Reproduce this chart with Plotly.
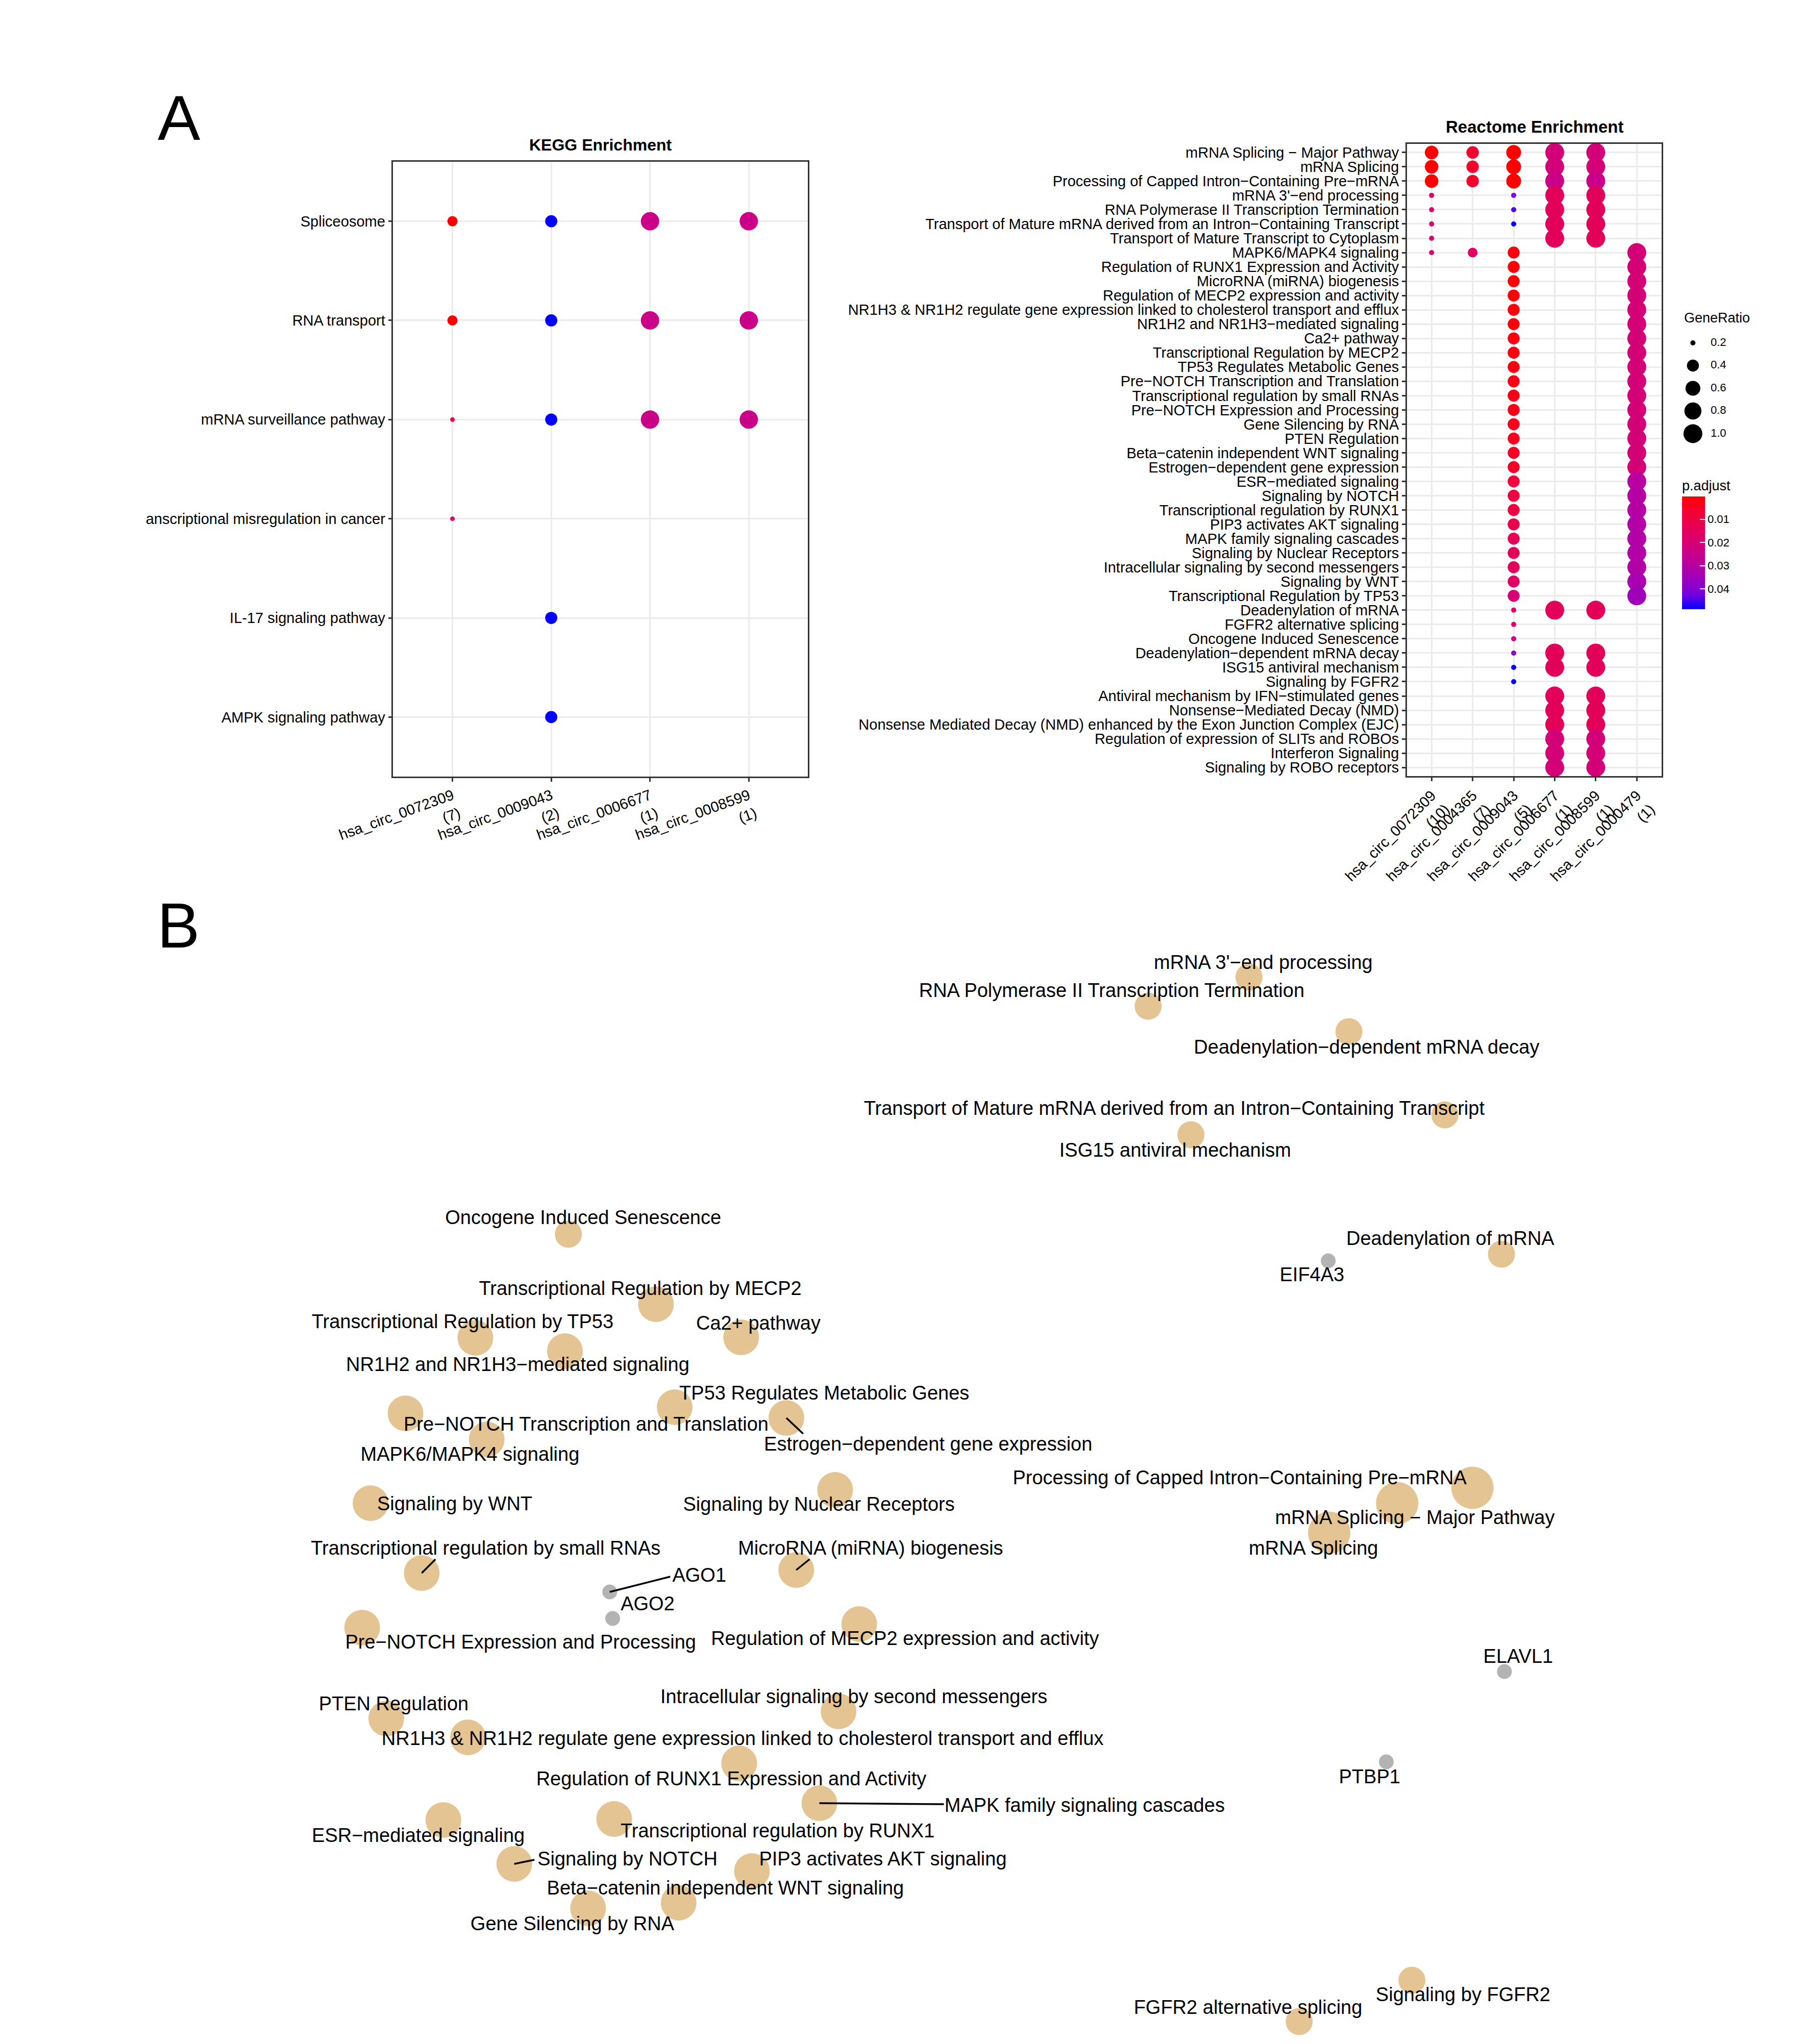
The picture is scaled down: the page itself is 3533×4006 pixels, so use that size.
import math
import plotly.graph_objects as go

W, H = 3533, 4006
FONT = "Liberation Sans, Arial, sans-serif"
N = None

# ---------------- KEGG enrichment data ----------------
kegg_terms = ["Spliceosome", "RNA transport", "mRNA surveillance pathway",
              "anscriptional misregulation in cancer", "IL-17 signaling pathway",
              "AMPK signaling pathway"]
kegg_circ = ["hsa_circ_0072309", "hsa_circ_0009043", "hsa_circ_0006677", "hsa_circ_0008599"]
kegg_counts = [7, 2, 1, 1]
kegg_ratio_0072309 = [0.286, 0.286, 0.143, 0.143, N, N]
kegg_padj_0072309 = [0.0008, 0.0009, 0.0064, 0.012, N, N]
kegg_ratio_0009043 = [0.4, 0.4, 0.4, N, 0.4, 0.4]
kegg_padj_0009043 = [0.032, 0.032, 0.032, N, 0.032, 0.032]
kegg_ratio_0006677 = [1.0, 1.0, 1.0, N, N, N]
kegg_padj_0006677 = [0.0164, 0.0164, 0.0164, N, N, N]
kegg_ratio_0008599 = [1.0, 1.0, 1.0, N, N, N]
kegg_padj_0008599 = [0.0164, 0.0164, 0.0164, N, N, N]

# ---------------- Reactome enrichment data ----------------
reactome_terms = [
    "mRNA Splicing \u2212 Major Pathway", "mRNA Splicing",
    "Processing of Capped Intron\u2212Containing Pre\u2212mRNA", "mRNA 3'\u2212end processing",
    "RNA Polymerase II Transcription Termination",
    "Transport of Mature mRNA derived from an Intron\u2212Containing Transcript",
    "Transport of Mature Transcript to Cytoplasm", "MAPK6/MAPK4 signaling",
    "Regulation of RUNX1 Expression and Activity", "MicroRNA (miRNA) biogenesis",
    "Regulation of MECP2 expression and activity",
    "NR1H3 & NR1H2 regulate gene expression linked to cholesterol transport and efflux",
    "NR1H2 and NR1H3\u2212mediated signaling", "Ca2+ pathway",
    "Transcriptional Regulation by MECP2", "TP53 Regulates Metabolic Genes",
    "Pre\u2212NOTCH Transcription and Translation", "Transcriptional regulation by small RNAs",
    "Pre\u2212NOTCH Expression and Processing", "Gene Silencing by RNA", "PTEN Regulation",
    "Beta\u2212catenin independent WNT signaling", "Estrogen\u2212dependent gene expression",
    "ESR\u2212mediated signaling", "Signaling by NOTCH", "Transcriptional regulation by RUNX1",
    "PIP3 activates AKT signaling", "MAPK family signaling cascades",
    "Signaling by Nuclear Receptors", "Intracellular signaling by second messengers",
    "Signaling by WNT", "Transcriptional Regulation by TP53", "Deadenylation of mRNA",
    "FGFR2 alternative splicing", "Oncogene Induced Senescence",
    "Deadenylation\u2212dependent mRNA decay", "ISG15 antiviral mechanism",
    "Signaling by FGFR2", "Antiviral mechanism by IFN\u2212stimulated genes",
    "Nonsense\u2212Mediated Decay (NMD)",
    "Nonsense Mediated Decay (NMD) enhanced by the Exon Junction Complex (EJC)",
    "Regulation of expression of SLITs and ROBOs", "Interferon Signaling",
    "Signaling by ROBO receptors"]
reactome_circ = ["hsa_circ_0072309", "hsa_circ_0004365", "hsa_circ_0009043",
                 "hsa_circ_0006677", "hsa_circ_0008599", "hsa_circ_0000479"]
reactome_counts = [10, 7, 5, 1, 1, 1]

re_ratio_0072309 = [0.5, 0.5, 0.5, 0.2, 0.2, 0.2, 0.2, 0.2] + [N] * 36
re_padj_0072309 = [0.0002, 0.0002, 0.0002, 0.018, 0.018, 0.018, 0.018, 0.018] + [N] * 36

re_ratio_0004365 = [0.43, 0.43, 0.43, N, N, N, N, 0.29] + [N] * 36
re_padj_0004365 = [0.006, 0.006, 0.006, N, N, N, N, 0.016] + [N] * 36

re_ratio_0009043 = ([0.6, 0.6, 0.6, 0.2, 0.2, 0.2, N]
                    + [0.4] * 25
                    + [0.2, 0.2, 0.2, 0.2, 0.2, 0.2]
                    + [N] * 6)
re_padj_0009043 = [0.0004, 0.0004, 0.0004, 0.040, 0.045, 0.0487, N,
                   0.0018, 0.0012, 0.0012, 0.0012, 0.0014, 0.0016, 0.0018, 0.0020,
                   0.0024, 0.0028, 0.0030, 0.0032, 0.0035, 0.0040, 0.0050, 0.0052,
                   0.0085, 0.0090, 0.0100, 0.0120, 0.0140, 0.0145, 0.0145, 0.0165,
                   0.0200,
                   0.0175, 0.0190, 0.0250, 0.0400, 0.0487, 0.0487,
                   N, N, N, N, N, N]

re_ratio_0006677 = ([1.0] * 7 + [N] * 25 + [1.0, N, N, 1.0, 1.0, N]
                    + [1.0, 1.0, 1.0, 1.0, 1.0, 1.0])
re_padj_0006677 = ([0.021, 0.021, 0.0245, 0.0145, 0.0145, 0.0145, 0.0145] + [N] * 25
                   + [0.0145, N, N, 0.0145, 0.0145, N]
                   + [0.0145, 0.0145, 0.0145, 0.021, 0.021, 0.021])

re_ratio_0008599 = list(re_ratio_0006677)
re_padj_0008599 = list(re_padj_0006677)

re_ratio_0000479 = [N] * 7 + [1.0] * 25 + [N] * 12
re_padj_0000479 = ([N] * 7 + [0.0205] * 16
                   + [0.029, 0.030, 0.030, 0.031, 0.031, 0.031, 0.031, 0.033, 0.035]
                   + [N] * 12)

generatio_breaks = [0.2, 0.4, 0.6, 0.8, 1.0]
padj_breaks = [0.01, 0.02, 0.03, 0.04]

# ---------------- network (layout coordinates) ----------------
path_names = [
    "mRNA 3'\u2212end processing", "RNA Polymerase II Transcription Termination",
    "Deadenylation\u2212dependent mRNA decay",
    "Transport of Mature mRNA derived from an Intron\u2212Containing Transcript",
    "ISG15 antiviral mechanism", "Deadenylation of mRNA", "Oncogene Induced Senescence",
    "Transcriptional Regulation by MECP2", "Transcriptional Regulation by TP53",
    "NR1H2 and NR1H3\u2212mediated signaling", "Ca2+ pathway", "TP53 Regulates Metabolic Genes",
    "Estrogen\u2212dependent gene expression", "Pre\u2212NOTCH Transcription and Translation",
    "MAPK6/MAPK4 signaling", "Signaling by WNT", "Signaling by Nuclear Receptors",
    "Transcriptional regulation by small RNAs", "MicroRNA (miRNA) biogenesis",
    "Pre\u2212NOTCH Expression and Processing", "Regulation of MECP2 expression and activity",
    "PTEN Regulation",
    "NR1H3 & NR1H2 regulate gene expression linked to cholesterol transport and efflux",
    "Intracellular signaling by second messengers",
    "Regulation of RUNX1 Expression and Activity", "MAPK family signaling cascades",
    "ESR\u2212mediated signaling", "Transcriptional regulation by RUNX1", "Signaling by NOTCH",
    "PIP3 activates AKT signaling", "Beta\u2212catenin independent WNT signaling",
    "Gene Silencing by RNA", "Processing of Capped Intron\u2212Containing Pre\u2212mRNA",
    "mRNA Splicing \u2212 Major Pathway", "mRNA Splicing", "Signaling by FGFR2",
    "FGFR2 alternative splicing"]
path_gene_count = [1, 1, 1, 1, 1, 1, 1, 2, 2, 2, 2, 2, 2, 2, 2, 2, 2, 2, 2, 2, 2, 2, 2, 2,
                   2, 2, 2, 2, 2, 2, 2, 2, 3, 3, 3, 1, 1]
path_x = [23.99, 21.94, 26.02, 27.97, 22.81, 29.12, 10.16, 11.94, 8.27, 10.09, 13.67, 12.32,
          14.59, 6.85, 8.50, 6.14, 15.58, 7.18, 14.79, 5.97, 16.07, 6.46, 8.12, 15.65,
          13.63, 15.26, 7.62, 11.09, 9.06, 13.89, 12.40, 10.56, 28.53, 27.00, 25.62,
          27.30, 25.01]
path_y = [20.99, 20.42, 19.92, 18.29, 17.90, 15.56, 15.95, 14.58, 13.92, 13.66, 13.93, 12.56,
          12.35, 12.44, 11.93, 10.68, 10.94, 9.31, 9.37, 8.24, 8.31, 6.46, 6.09, 6.60,
          5.58, 4.80, 4.47, 4.49, 3.61, 3.47, 2.85, 2.74, 10.98, 10.68, 10.10,
          1.33, 0.52]
path_label_x = [24.28, 21.20, 26.38, 22.47, 22.49, 28.08, 10.46, 11.62, 8.01, 9.13, 14.02,
                15.36, 17.47, 10.52, 8.16, 7.85, 15.25, 8.48, 16.30, 9.19, 17.00, 6.61,
                13.70, 15.96, 13.47, 20.65, 7.11, 14.41, 11.36, 16.55, 13.35, 10.24,
                23.80, 27.36, 25.30, 28.34, 23.97]
path_label_y = [21.25, 20.70, 19.59, 18.39, 17.57, 15.84, 16.25, 14.86, 14.21, 13.37, 14.18,
                12.81, 11.81, 12.20, 11.61, 10.64, 10.63, 9.77, 9.77, 7.93, 8.00, 6.72,
                6.04, 6.86, 5.25, 4.73, 4.14, 4.23, 3.68, 3.68, 3.11, 2.41,
                11.15, 10.37, 9.77, 1.02, 0.77]

gene_names = ["EIF4A3", "AGO1", "AGO2", "ELAVL1", "PTBP1"]
gene_x = [25.60, 11.00, 11.06, 29.18, 26.78]
gene_y = [15.43, 8.94, 8.42, 7.38, 5.61]
gene_label_x = [25.27, 12.82, 11.77, 29.46, 26.44]
gene_label_y = [15.13, 9.24, 8.68, 7.65, 5.29]

# label leader segments (ggrepel): from node to end point
leader_from = ["Estrogen\u2212dependent gene expression", "Transcriptional regulation by small RNAs",
               "MicroRNA (miRNA) biogenesis", "AGO1", "Signaling by NOTCH",
               "MAPK family signaling cascades"]
leader_end_x = [14.93, 7.46, 15.06, 12.23, 9.47, 17.79]
leader_end_y = [12.04, 9.58, 9.58, 9.24, 3.69, 4.78]

# ---------------- helpers ----------------
def px_x(v):
    return v / W


def px_y(v):
    return 1 - v / H


# red -> blue gradient interpolated in Lab space (ggplot style)
RB = [[0.0, "#FF0000"], [0.125, "#F40031"], [0.25, "#E8004F"], [0.375, "#DA006C"],
      [0.5, "#CA0089"], [0.625, "#B500A5"], [0.75, "#9A00C2"], [0.875, "#7300E0"],
      [1.0, "#0000FF"]]
RB_REV = [[1 - t, c] for t, c in reversed(RB)]

fig = go.Figure()

axis_common = dict(showline=True, mirror=True, linecolor="#333333", linewidth=2.7,
                   showgrid=True, gridcolor="#EBEBEB", gridwidth=2.7, zeroline=False,
                   ticks="outside", ticklen=7, tickwidth=2.7, tickcolor="#333333",
                   tickfont=dict(family=FONT, size=29, color="black"), type="category",
                   categoryorder="array", tickmode="array")

# ---------------- network (drawn in its own lower area) ----------------
size_by_count = {1: 53, 2: 70, 3: 83}
fig.add_trace(go.Scatter(x=path_x, y=path_y, mode="markers", xaxis="x3", yaxis="y3",
                         marker=dict(size=[size_by_count[c] for c in path_gene_count],
                                     color="#E5C494", opacity=1, line=dict(width=0)),
                         showlegend=False, hovertext=path_names, hoverinfo="text",
                         cliponaxis=False))
fig.add_trace(go.Scatter(x=gene_x, y=gene_y, mode="markers", xaxis="x3", yaxis="y3",
                         marker=dict(size=29, color="#B3B3B3", opacity=1, line=dict(width=0)),
                         showlegend=False, hovertext=gene_names, hoverinfo="text",
                         cliponaxis=False))
all_names = path_names + gene_names
all_x = path_x + gene_x
all_y = path_y + gene_y
seg_x, seg_y = [], []
for name, ex, ey in zip(leader_from, leader_end_x, leader_end_y):
    i = all_names.index(name)
    seg_x += [all_x[i], ex, None]
    seg_y += [all_y[i], ey, None]
fig.add_trace(go.Scatter(x=seg_x, y=seg_y, mode="lines", xaxis="x3", yaxis="y3",
                         line=dict(color="black", width=3.5), showlegend=False,
                         hoverinfo="skip", cliponaxis=False))
fig.add_trace(go.Scatter(x=path_label_x + gene_label_x, y=path_label_y + gene_label_y,
                         mode="text", xaxis="x3", yaxis="y3", text=all_names,
                         textposition="middle center",
                         textfont=dict(family=FONT, size=38, color="black"),
                         showlegend=False, hoverinfo="skip", cliponaxis=False))

# ---------------- KEGG trace ----------------
kegg_cols = [(kegg_ratio_0072309, kegg_padj_0072309), (kegg_ratio_0009043, kegg_padj_0009043),
             (kegg_ratio_0006677, kegg_padj_0006677), (kegg_ratio_0008599, kegg_padj_0008599)]
kx, ky, kr, kp = [], [], [], []
for circ, (ratios, padjs) in zip(kegg_circ, kegg_cols):
    for term, r, p in zip(kegg_terms, ratios, padjs):
        if r is not None:
            kx.append(circ); ky.append(term); kr.append(r); kp.append(p)
kmin, kmax = min(kr), max(kr)
ksize = [9 + 27 * math.sqrt((r - kmin) / (kmax - kmin)) for r in kr]
fig.add_trace(go.Scatter(x=kx, y=ky, mode="markers", xaxis="x", yaxis="y",
                         marker=dict(size=ksize, color=kp, colorscale=RB, cmin=min(kp),
                                     cmax=max(kp), showscale=False, opacity=1,
                                     line=dict(width=0)),
                         showlegend=False, hoverinfo="x+y"))

# ---------------- Reactome trace ----------------
re_cols = [(re_ratio_0072309, re_padj_0072309), (re_ratio_0004365, re_padj_0004365),
           (re_ratio_0009043, re_padj_0009043), (re_ratio_0006677, re_padj_0006677),
           (re_ratio_0008599, re_padj_0008599), (re_ratio_0000479, re_padj_0000479)]
rx, ry, rr, rp = [], [], [], []
for circ, (ratios, padjs) in zip(reactome_circ, re_cols):
    for term, r, p in zip(reactome_terms, ratios, padjs):
        if r is not None:
            rx.append(circ); ry.append(term); rr.append(r); rp.append(p)
rmin, rmax = min(rr), max(rr)


def re_size(r):
    return 10 + 27 * math.sqrt((r - rmin) / (rmax - rmin))


fig.add_trace(go.Scatter(
    x=rx, y=ry, mode="markers", xaxis="x2", yaxis="y2",
    marker=dict(size=[re_size(r) for r in rr], color=[-p for p in rp], colorscale=RB_REV,
                cmin=-max(rp), cmax=-min(rp), opacity=1, line=dict(width=0), showscale=True,
                colorbar=dict(
                    title=dict(text="p.adjust", side="top",
                               font=dict(family=FONT, size=27, color="black")),
                    x=px_x(3279), xanchor="left", xref="paper", xpad=0,
                    y=px_y(1186), yanchor="bottom", yref="paper", ypad=0,
                    len=256, lenmode="pixels", thickness=45, thicknessmode="pixels",
                    outlinewidth=0, ticks="inside", ticklen=10, tickwidth=2,
                    tickcolor="white", tickvals=[-b for b in padj_breaks],
                    ticktext=[f"{b:.2f}" for b in padj_breaks],
                    tickfont=dict(family=FONT, size=22, color="black"))),
    showlegend=False, hoverinfo="x+y"))

# ---------------- GeneRatio size legend ----------------
fig.add_trace(go.Scatter(x=[61] * len(generatio_breaks), y=list(range(len(generatio_breaks))),
                         mode="markers", xaxis="x4", yaxis="y4",
                         marker=dict(size=[re_size(b) for b in generatio_breaks],
                                     color="black", opacity=1, line=dict(width=0)),
                         showlegend=False, hoverinfo="skip", cliponaxis=False))
fig.add_trace(go.Scatter(x=[97] * len(generatio_breaks), y=list(range(len(generatio_breaks))),
                         mode="text", xaxis="x4", yaxis="y4",
                         text=[f"{b:.1f}" for b in generatio_breaks], textposition="middle right",
                         textfont=dict(family=FONT, size=22, color="black"),
                         showlegend=False, hoverinfo="skip", cliponaxis=False))

# ---------------- layout ----------------
fig.update_layout(
    width=W, height=H, margin=dict(l=0, r=0, t=0, b=0),
    paper_bgcolor="white", plot_bgcolor="rgba(0,0,0,0)", showlegend=False,
    font=dict(family=FONT, color="black"),
    xaxis=dict(axis_common, domain=[px_x(660), px_x(1503)], anchor="y",
               categoryarray=kegg_circ, range=[-0.6, len(kegg_circ) - 0.4],
               tickvals=kegg_circ,
               ticktext=[f"{c}<br>({n})" for c, n in zip(kegg_circ, kegg_counts)],
               tickangle=-20),
    yaxis=dict(axis_common, domain=[px_y(1514), px_y(309)], anchor="x",
               categoryarray=kegg_terms, range=[len(kegg_terms) - 0.4, -0.6],
               tickvals=kegg_terms, ticktext=kegg_terms),
    xaxis2=dict(axis_common, domain=[px_x(2720), px_x(3237)], anchor="y2",
                categoryarray=reactome_circ, range=[-0.6, len(reactome_circ) - 0.4],
                tickvals=reactome_circ,
                ticktext=[f"{c}<br>({n})" for c, n in zip(reactome_circ, reactome_counts)],
                tickangle=-45),
    yaxis2=dict(axis_common, domain=[px_y(1513), px_y(274)], anchor="x2",
                categoryarray=reactome_terms, range=[len(reactome_terms) - 0.4, -0.6],
                tickvals=reactome_terms, ticktext=reactome_terms,
                tickfont=dict(family=FONT, size=29, color="black")),
    xaxis3=dict(domain=[0, 1], range=[0, W / 100], visible=False, anchor="y3"),
    yaxis3=dict(domain=[0, px_y(1700)], range=[0, (H - 1700) / 100], visible=False,
                anchor="x3"),
    xaxis4=dict(domain=[px_x(3240), px_x(3440)], range=[0, 200], visible=False, anchor="y4"),
    yaxis4=dict(domain=[px_y(880), px_y(630)], range=[4.854, -0.764], visible=False,
                anchor="x4"),
)

ann = [
    dict(text="A", x=px_x(225), y=px_y(222), size=125),
    dict(text="B", x=px_x(223), y=px_y(1805), size=125),
    dict(text="<b>KEGG Enrichment</b>", x=px_x(1082), y=px_y(276), size=32),
    dict(text="<b>Reactome Enrichment</b>", x=px_x(2979), y=px_y(241), size=33),
]
for a in ann:
    fig.add_annotation(text=a["text"], x=a["x"], y=a["y"], xref="paper", yref="paper",
                       xanchor="center", yanchor="middle", showarrow=False,
                       font=dict(family=FONT, size=a["size"], color="black"))
fig.add_annotation(text="GeneRatio", x=px_x(3281), y=px_y(615), xref="paper", yref="paper",
                   xanchor="left", yanchor="middle", showarrow=False,
                   font=dict(family=FONT, size=27, color="black"))

fig.write_html("out.html")
